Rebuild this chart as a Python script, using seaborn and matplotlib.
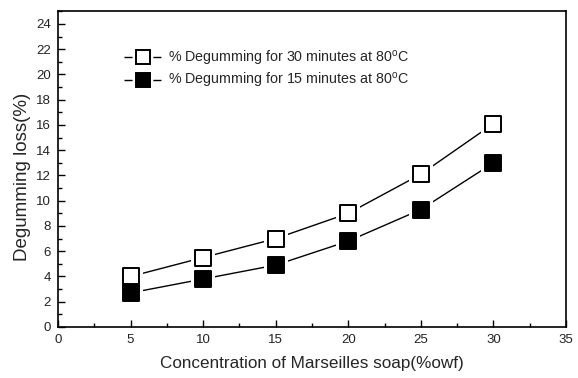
import pandas as pd
import matplotlib
matplotlib.use("Agg")
import matplotlib.pyplot as plt
import seaborn as sns
from matplotlib.lines import Line2D
from matplotlib.ticker import MultipleLocator

# Data
soap_conc = [5, 10, 15, 20, 25, 30]
loss_30min = [4.0, 5.5, 7.0, 9.0, 12.1, 16.1]
loss_15min = [2.7, 3.8, 4.9, 6.8, 9.3, 13.0]

label_30 = "% Degumming for 30 minutes at 80$^{\\mathrm{o}}$C"
label_15 = "% Degumming for 15 minutes at 80$^{\\mathrm{o}}$C"

df = pd.DataFrame({"conc": soap_conc, "t30": loss_30min, "t15": loss_15min})

sns.set_theme(style="ticks")
plt.rcParams["font.family"] = ["Liberation Sans", "DejaVu Sans"]
plt.rcParams["mathtext.fontset"] = "custom"
plt.rcParams["mathtext.rm"] = "Liberation Sans"

fig = plt.figure(figsize=(5.78, 3.78), dpi=100)
ax = fig.add_axes([0.1003, 0.135, 0.8789, 0.835])

ms = 11.5       # marker size in points
halo = 17.5     # white gap around markers

# connecting lines
for col in ["t30", "t15"]:
    sns.lineplot(data=df, x="conc", y=col, ax=ax, color="black", linewidth=1.0,
                 zorder=2, legend=False)

# white halos so lines stop short of the squares
for col in ["t30", "t15"]:
    sns.scatterplot(data=df, x="conc", y=col, ax=ax, marker="s", s=halo ** 2,
                    color="white", linewidth=0, zorder=3, legend=False)

sns.scatterplot(data=df, x="conc", y="t30", ax=ax, marker="s", s=ms ** 2,
                facecolor="white", edgecolor="black", linewidth=1.4, zorder=4,
                legend=False)
sns.scatterplot(data=df, x="conc", y="t15", ax=ax, marker="s", s=ms ** 2,
                facecolor="black", edgecolor="black", linewidth=1.4, zorder=5,
                legend=False)

ax.set_xlim(0, 35)
ax.set_ylim(0, 25)
ax.xaxis.set_major_locator(MultipleLocator(5))
ax.xaxis.set_minor_locator(MultipleLocator(2.5))
ax.yaxis.set_major_locator(MultipleLocator(2))
ax.yaxis.set_minor_locator(MultipleLocator(1))
ax.tick_params(which="both", direction="in", top=False, right=False,
               labelsize=9.5, width=1, color="black", labelcolor="#222222", pad=5)
ax.tick_params(which="major", length=5)
ax.tick_params(which="minor", length=3)
for sp in ax.spines.values():
    sp.set_visible(True)
    sp.set_linewidth(1.2)
    sp.set_color("black")

ax.set_xlabel("Concentration of Marseilles soap(%owf)", fontsize=12.3, labelpad=7)
ax.set_ylabel("Degumming loss(%)", fontsize=13.5)
ax.yaxis.set_label_coords(-0.054, 0.475)

# legend handles: dash - square - dash, with gaps around the square
def make_handle(face):
    return Line2D([], [], color="black", linewidth=1.0,
                  linestyle=(0, (5.8, 15.0, 5.8, 100.0)),
                  marker="s", markersize=10.5, markerfacecolor=face,
                  markeredgecolor="black", markeredgewidth=1.4)

ax.legend([make_handle("white"), make_handle("black")], [label_30, label_15],
          loc="upper left", bbox_to_anchor=(0.119, 0.90), frameon=False,
          fontsize=10.3, handlelength=2.6, handletextpad=0.5,
          labelspacing=0.25, borderaxespad=0, numpoints=1)

fig.savefig("out.png", dpi=100)
